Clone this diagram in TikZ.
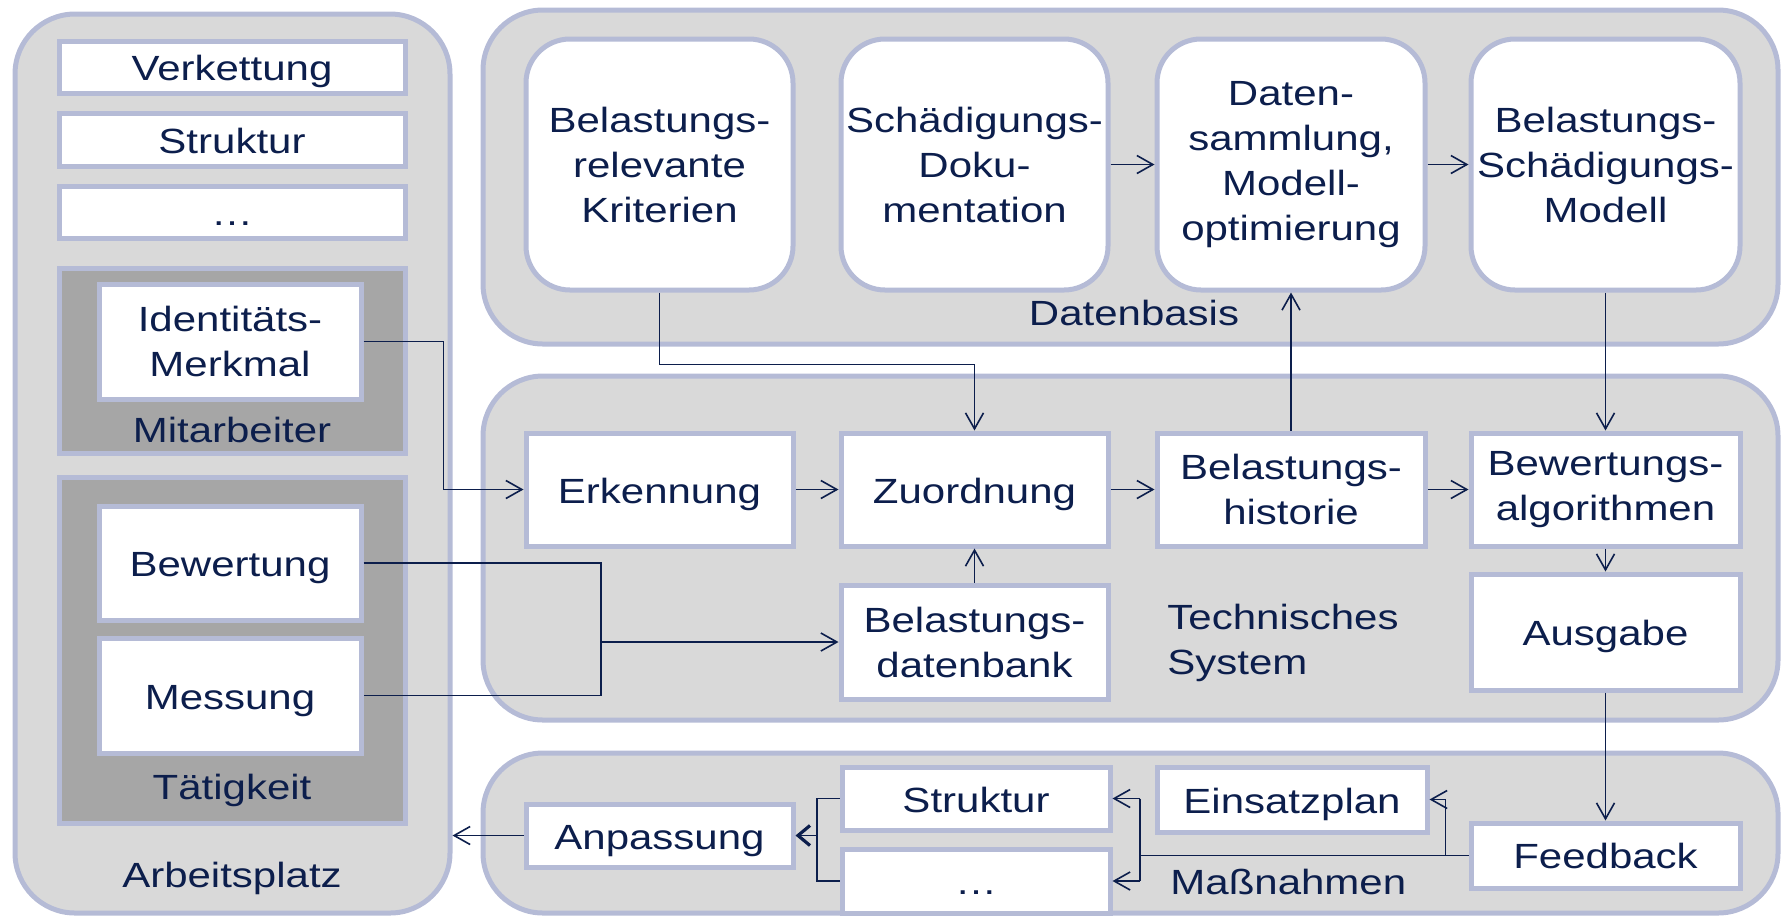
\documentclass[tikz,border=0pt]{standalone}
\usepackage{fontspec}
\setmainfont{Liberation Sans}[FakeStretch=1.2]
\usetikzlibrary{arrows.meta,calc}
\definecolor{bord}{RGB}{181,187,214}
\definecolor{lgray}{RGB}{217,217,217}
\definecolor{dgray}{RGB}{166,166,166}
\definecolor{navy}{RGB}{12,30,76}
\newcommand\mytxt{\fontsize{17.5}{22.5}\selectfont}
\tikzset{
 span/.style n args={4}{at={({(#1+#3)/2},{(#2+#4)/2})}, minimum width={(#3-#1)*0.5pt}, minimum height={(#4-#2)*0.5pt}},
 container/.style={draw=bord, fill=lgray, line width=2.5pt, rounded corners=30pt, inner sep=0pt},
 darkbox/.style={draw=bord, fill=dgray, line width=2.5pt, inner sep=0pt},
 rbox/.style={draw=bord, fill=white, line width=2.5pt, rounded corners=22pt, inner sep=0pt, align=center, text=navy, font=\mytxt},
 sbox/.style={draw=bord, fill=white, line width=2.5pt, inner sep=0pt, align=center, text=navy, font=\mytxt},
 oneline/.style={text height=13.5pt, text depth=0pt},
 lbl/.style={text=navy, font=\mytxt, align=center, inner sep=0pt},
 conn/.style={draw=navy, line width=0.8pt},
 arr/.style={conn, -{Straight Barb[length=8pt,width=9pt,line width=0.8pt]}},
 boldarr/.style={conn, -{Straight Barb[length=6pt,width=10pt,line width=1.6pt]}},
}
\begin{document}
\begin{tikzpicture}[x=0.5pt,y=-0.5pt]
\useasboundingbox (0,0) rectangle (1783,918);
% containers
\node[container, span={15}{14}{450}{913}] (arb) {};
\node[container, span={483}{10}{1778}{344}] (db) {};
\node[container, span={483}{376}{1778}{720}] (ts) {};
\node[container, span={483}{753}{1778}{913}] (mn) {};
% Arbeitsplatz
\node[sbox, oneline, span={59}{41}{405}{93}] (verk) {Verkettung};
\node[sbox, oneline, span={59}{113}{405}{166}] (struk) {Struktur};
\node[sbox, oneline, span={59}{186}{405}{238}] (dots1) {…};
\node[darkbox, span={59}{268}{405}{453}] (mit) {};
\node[sbox, span={99}{284}{361}{399}] (ident) {Identitäts-\\Merkmal};
\node[lbl, anchor=base] (mitlbl) at (232,442) {Mitarbeiter};
\node[darkbox, span={59}{477}{405}{823}] (taet) {};
\node[sbox, oneline, span={99}{506}{361}{620}] (bew) {Bewertung};
\node[sbox, oneline, span={99}{638}{361}{753}] (mess) {Messung};
\node[lbl, anchor=base] (taetlbl) at (232,799) {Tätigkeit};
\node[lbl, anchor=base] (arblbl) at (232,887) {Arbeitsplatz};
% Datenbasis
\node[rbox, span={526}{39}{793}{290}] (krit) {Belastungs-\\relevante\\Kriterien};
\node[rbox, span={841}{39}{1108}{290}] (schad) {Schädigungs-\\Doku-\\mentation};
\node[rbox, span={1157}{39}{1425}{290}] (daten) {Daten-\\sammlung,\\Modell-\\optimierung};
\node[rbox, span={1471}{39}{1740}{290}] (bsm) {Belastungs-\\Schädigungs-\\Modell};
\node[lbl, anchor=base] (dblbl) at (1134,325) {Datenbasis};
% Technisches System
\node[sbox, oneline, span={526}{433}{793}{546}] (erk) {Erkennung};
\node[sbox, oneline, span={841}{433}{1108}{546}] (zuo) {Zuordnung};
\node[sbox, span={1157}{433}{1425}{546}] (hist) {Belastungs-\\historie};
\node[sbox, span={1471}{433}{1740}{546}] (alg) {Bewertungs-\\algorithmen};
\node[sbox, span={841}{585}{1108}{699}] (bdb) {Belastungs-\\datenbank};
\node[sbox, oneline, span={1471}{574}{1740}{690}] (ausg) {Ausgabe};
\node[lbl, anchor=west, align=left] (tslbl) at (1167,643) {Technisches\\System};
% Massnahmen
\node[sbox, oneline, span={526}{804}{793}{867}] (anp) {Anpassung};
\node[sbox, oneline, span={842}{767}{1110}{830}] (struk2) {Struktur};
\node[sbox, oneline, span={842}{849}{1110}{913}] (dots2) {…};
\node[sbox, oneline, span={1157}{767}{1427}{832}] (einsatz) {Einsatzplan};
\node[sbox, span={1471}{823}{1740}{888}] (feed) {Feedback};
\node[lbl, anchor=base west] (mnlbl) at (1170,894) {Maßnahmen};
% connectors
\coordinate (jb) at (601,600);
\coordinate (jf) at (1140,800);
\coordinate (ja) at (817,800);
\draw[arr] (ident.east) -- ++(80,0) |- (erk.west);
\draw[conn] (bew.east) -| (jb) |- (mess.east);
\draw[arr] (jb |- bdb.west) -- (bdb.west);
\draw[arr] (krit.south) -- ++(0,72) -| (zuo.north);
\draw[arr] (bdb.north) -- (zuo.south);
\draw[arr] (erk.east) -- (zuo.west);
\draw[arr] (zuo.east) -- (hist.west);
\draw[arr] (hist.east) -- (alg.west);
\draw[arr] (hist.north) -- (daten.south);
\draw[arr] (schad.east) -- (daten.west);
\draw[arr] (daten.east) -- (bsm.west);
\draw[arr] (bsm.south) -- (alg.north);
\draw[arr] (alg.south) -- (ausg.north);
\draw[arr] (ausg.south) -- (feed.north);
\draw[conn] (feed.west) -- (jf |- feed.west);
\draw[arr] (feed.west) ++(-23,0) |- (einsatz.east);
\draw[conn] (jf |- struk2.east) -- (jf |- dots2.east);
\draw[arr] (jf |- struk2.east) -- (struk2.east);
\draw[arr] (jf |- dots2.east) -- (dots2.east);
\draw[conn] (struk2.west) -- (ja |- struk2.west) -- (ja |- dots2.west) -- (dots2.west);
\draw[boldarr] (ja |- anp.east) -- (anp.east);
\draw[arr] (anp.west) -- (anp.west -| arb.east);
\end{tikzpicture}
\end{document}
